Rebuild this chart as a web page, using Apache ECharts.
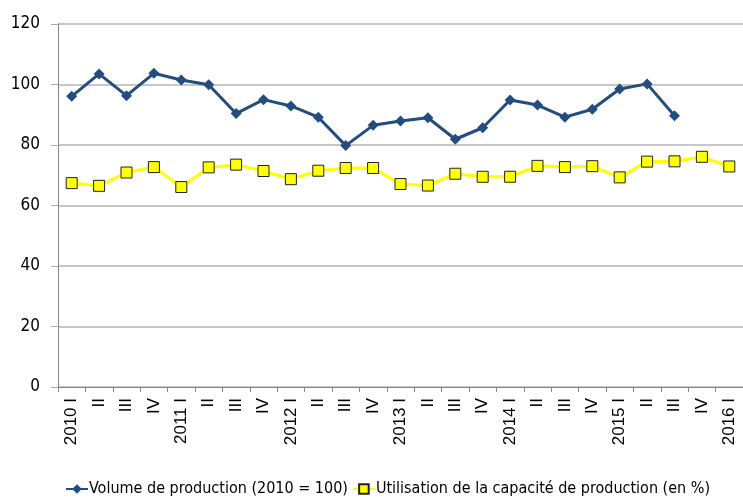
<!DOCTYPE html>
<html>
<head>
<meta charset="utf-8">
<script src="https://cdn.jsdelivr.net/npm/echarts@6/dist/echarts.min.js"></script>
<style>
  html, body { margin: 0; padding: 0; background: #fff; }
  #main { width: 743px; height: 502px; }
</style>
</head>
<body>
<div id="main"></div>
<script>
// trimestres 2010 I .. 2016 I
const categories = [
  "2010 I", "II", "III", "IV",
  "2011 I", "II", "III", "IV",
  "2012 I", "II", "III", "IV",
  "2013 I", "II", "III", "IV",
  "2014 I", "II", "III", "IV",
  "2015 I", "II", "III", "IV",
  "2016 I"
];
const volume = [
  96.1, 103.5, 96.3, 103.7, 101.5, 99.9, 90.4, 95.0, 92.9, 89.2, 79.8, 86.5,
  87.9, 89.0, 81.9, 85.7, 94.9, 93.2, 89.2, 91.8, 98.5, 100.2, 89.7, null, null
];
const capacite = [
  67.4, 66.5, 70.9, 72.7, 66.1, 72.6, 73.5, 71.4, 68.7, 71.5, 72.4, 72.4,
  67.1, 66.6, 70.5, 69.5, 69.5, 73.1, 72.7, 73.0, 69.3, 74.5, 74.6, 76.1, 72.9
];
const seriesNames = ["Volume de production (2010 = 100)", "Utilisation de la capacité de production (en %)"];

const narrow = '"Liberation Sans Narrow", "DejaVu Sans Condensed", "Liberation Sans", sans-serif';

const option = {
  animation: false,
  grid: { left: 58, top: 24, width: 691, height: 363 },
  legend: {
    data: seriesNames,
    left: 60,
    top: 476,
    width: 700,
    itemGap: 4,
    itemWidth: 22,
    itemHeight: 12,
    textStyle: { fontFamily: narrow, fontSize: 16, color: "#000", padding: [0, 0, 0, -4] }
  },
  xAxis: {
    type: "category",
    data: categories,
    boundaryGap: true,
    axisLine: { lineStyle: { color: "#888", width: 1 } },
    axisTick: { show: true, length: 5, lineStyle: { color: "#888" } },
    axisLabel: {
      rotate: 90,
      interval: 0,
      margin: 11,
      fontFamily: '"Liberation Sans", Arial, sans-serif',
      fontSize: 17,
      color: "#000"
    }
  },
  yAxis: {
    type: "value",
    min: 0,
    max: 120,
    interval: 20,
    axisLine: { show: true, lineStyle: { color: "#888", width: 1 } },
    axisTick: { show: true, length: 7, lineStyle: { color: "#aaa" } },
    splitLine: { lineStyle: { color: "#b5b5b5", width: 1.5 } },
    axisLabel: { fontFamily: narrow, fontSize: 17, color: "#000", margin: 18 }
  },
  series: [
    {
      name: seriesNames[0],
      type: "line",
      data: volume,
      symbol: "diamond",
      symbolSize: 11,
      lineStyle: { color: "#234c7f", width: 3 },
      itemStyle: { color: "#234c7f" }
    },
    {
      name: seriesNames[1],
      type: "line",
      data: capacite,
      symbol: "rect",
      symbolSize: 11,
      lineStyle: { color: "#ffff00", width: 3 },
      itemStyle: { color: "#ffff00", borderColor: "#222", borderWidth: 1 }
    }
  ]
};

const myChart = echarts.init(document.getElementById("main"));
myChart.setOption(option);
</script>
</body>
</html>
